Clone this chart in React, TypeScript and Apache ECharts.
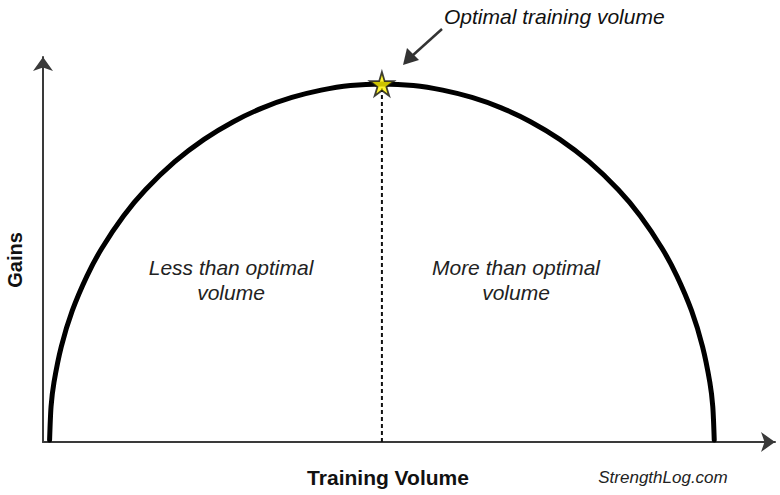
import React, { useEffect, useRef } from "react";
import * as echarts from "echarts";

// Curve (x: training volume, y: gains), arbitrary units 0..100
const curveX = [0.9, 1.1, 1.5, 2.5, 4, 6, 8, 11, 14, 18, 22, 26, 30, 34, 38, 42, 46.3, 50.6, 54.6, 58.6, 62.6, 66.6, 70.6, 74.6, 78.6, 81.6, 84.6, 86.6, 88.6, 90.1, 91.1, 91.5, 91.7];
const curveY = [0.5, 9.2, 15.5, 24.8, 34.1, 43.1, 50.2, 58.7, 65.5, 72.8, 78.6, 83.2, 86.8, 89.5, 91.4, 92.6, 93.0, 92.6, 91.4, 89.5, 86.8, 83.2, 78.6, 72.8, 65.5, 58.7, 50.2, 43.1, 34.1, 24.8, 15.5, 9.2, 0.5];
const optimalX = 46.3;
const optimalY = 93.0;

const titleText = "Optimal training volume";
const xAxisName = "Training Volume";
const yAxisName = "Gains";
const leftLabel = "Less than optimal\nvolume";
const rightLabel = "More than optimal\nvolume";
const sourceText = "StrengthLog.com";

const STAR = "path://M50,0 L61,35 L98,35 L68,57 L79,91 L50,70 L21,91 L32,57 L2,35 L39,35 Z";

export default function App() {
  const ref = useRef<HTMLDivElement>(null);
  useEffect(() => {
    if (!ref.current) return;
    const chart = echarts.init(ref.current, null, { renderer: "svg" });
    const font = "'Liberation Sans', Arial, sans-serif";
    const curve = curveX.map((x, i) => [x, curveY[i]]);
    chart.setOption({
      animation: false,
      backgroundColor: "#ffffff",
      grid: { left: 43, right: 5, top: 57, bottom: 53, containLabel: false },
      xAxis: {
        type: "value",
        min: 0,
        max: 100,
        axisLine: { show: true, symbol: ["none", "arrow"], symbolSize: [15, 14], lineStyle: { color: "#3a3a3a", width: 2 } },
        axisTick: { show: false },
        axisLabel: { show: false },
        splitLine: { show: false },
      },
      yAxis: {
        type: "value",
        min: 0,
        max: 100,
        axisLine: { show: true, symbol: ["none", "arrow"], symbolSize: [15, 14], lineStyle: { color: "#3a3a3a", width: 2 } },
        axisTick: { show: false },
        axisLabel: { show: false },
        splitLine: { show: false },
      },
      series: [
        {
          type: "line",
          data: [[optimalX, 0], [optimalX, optimalY]],
          showSymbol: false,
          lineStyle: { color: "#111", width: 2, type: [4, 3] },
          z: 1,
        },
        {
          type: "line",
          data: curve,
          smooth: 0.25,
          showSymbol: false,
          lineStyle: { color: "#000", width: 5, cap: "round" },
          z: 2,
        },
        {
          type: "scatter",
          data: [[optimalX, optimalY]],
          symbol: STAR,
          symbolSize: 24,
          itemStyle: { color: "#fff200", borderColor: "#111", borderWidth: 1.8 },
          z: 3,
        },
      ],
      graphic: [
        {
          type: "text",
          left: 444,
          top: 6,
          style: { text: titleText, font: `italic 21px ${font}`, fill: "#111" },
        },
        {
          type: "line",
          shape: { x1: 442, y1: 29, x2: 412, y2: 56 },
          style: { stroke: "#333", lineWidth: 2.5 },
        },
        {
          type: "polygon",
          shape: { points: [[403, 65], [407, 48], [419, 60]] },
          style: { fill: "#333" },
        },
        {
          type: "text",
          x: 231,
          y: 280,
          style: { text: leftLabel, font: `italic 21px ${font}`, fill: "#222", align: "center", verticalAlign: "middle", lineHeight: 25 },
        },
        {
          type: "text",
          x: 516,
          y: 280,
          style: { text: rightLabel, font: `italic 21px ${font}`, fill: "#222", align: "center", verticalAlign: "middle", lineHeight: 25 },
        },
        {
          type: "text",
          x: 388,
          y: 477,
          style: { text: xAxisName, font: `bold 21px ${font}`, fill: "#111", align: "center", verticalAlign: "middle" },
        },
        {
          type: "text",
          x: 15,
          y: 260,
          rotation: Math.PI / 2,
          style: { text: yAxisName, font: `bold 20px ${font}`, fill: "#111", align: "center", verticalAlign: "middle" },
        },
        {
          type: "text",
          x: 663,
          y: 477,
          style: { text: sourceText, font: `italic 17px ${font}`, fill: "#222", align: "center", verticalAlign: "middle" },
        },
      ],
    });
    return () => chart.dispose();
  }, []);
  return <div ref={ref} style={{ width: 780, height: 495, position: "absolute", left: 0, top: 0 }} />;
}
